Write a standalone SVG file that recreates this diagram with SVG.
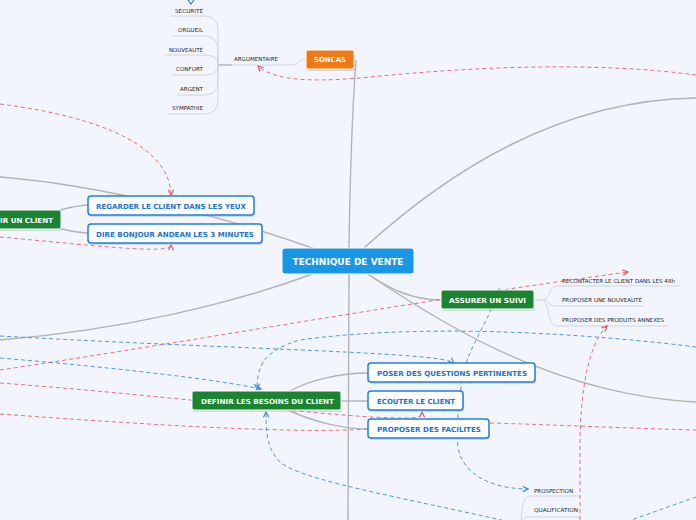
<svg xmlns="http://www.w3.org/2000/svg" width="696" height="520" viewBox="0 0 696 520">
<style>
.br{fill:none;stroke:#b3b3b3;stroke-width:1.4}
.lf{fill:none;stroke:#d2d4da;stroke-width:1}
.rd{fill:none;stroke:#ec5865;stroke-width:1;stroke-dasharray:4 3;opacity:0.85}
.bd{fill:none;stroke:#3b8fe6;stroke-width:1;stroke-dasharray:4 3;opacity:0.9}
.sh{fill:#9aa0aa;opacity:0.35}
.bx{fill:#fff;stroke:#1c80e3;stroke-width:1.5}
.gr{fill:#1a8431;stroke:#fff;stroke-width:1}
.t{font-family:"DejaVu Sans",Verdana,sans-serif;font-weight:bold}
.tb{fill:#1b73d4;font-size:7px}
.tw{fill:#fff;font-size:7px}
.tl{font-family:"DejaVu Sans",Verdana,sans-serif;fill:#262626;font-size:5.5px}
</style>
<defs>
<marker id="ar" viewBox="0 0 8 8" refX="7" refY="4" markerWidth="7" markerHeight="7" markerUnits="userSpaceOnUse" orient="auto"><path d="M1,1 L7,4 L1,7" fill="none" stroke="#ec3545" stroke-width="1.3"/></marker>
<marker id="ab" viewBox="0 0 8 8" refX="7" refY="4" markerWidth="7" markerHeight="7" markerUnits="userSpaceOnUse" orient="auto"><path d="M1,1 L7,4 L1,7" fill="none" stroke="#2a80e0" stroke-width="1.3"/></marker>
<marker id="abs" viewBox="0 0 8 8" refX="1" refY="4" markerWidth="7" markerHeight="7" markerUnits="userSpaceOnUse" orient="auto"><path d="M7,1 L1,4 L7,7" fill="none" stroke="#2a80e0" stroke-width="1.3"/></marker>
</defs>
<rect width="696" height="520" fill="#f2f5fe"/>

<g id="connectors">
<path class="br" d="M349,248 C350,180 353,100 356,60"/>
<path class="br" d="M364,248 C450,170 560,100 696,98"/>
<path class="br" d="M365,272 C450,330 560,395 696,402"/>
<path class="br" d="M367,274 C390,288 410,300 441,300"/>
<path class="br" d="M0,177 C100,185 220,215 318,250"/>
<path class="br" d="M0,340 C120,330 230,305 318,272"/>
<path class="br" d="M349,274 L348,520"/>
<path class="br" d="M52,213 Q70,206 88,205"/>
<path class="br" d="M52,226 Q70,232 88,233"/>
<path class="br" d="M290,391 C310,380 340,373 368,373"/>
<path class="br" d="M341,401 L368,401"/>
<path class="br" d="M290,411 C310,420 340,429 368,429"/>
<path class="br" d="M218,65 H232"/>
<path class="lf" d="M232,65 H290 C299,65 299,59 306,59"/>
<path class="lf" d="M170,16 H204 Q218,16 218,30 V65"/>
<path class="lf" d="M173,36 H204 Q218,36 218,50 V65"/>
<path class="lf" d="M165,55 H205 Q218,55 218,65"/>
<path class="lf" d="M172,75 H205 Q218,75 218,65"/>
<path class="lf" d="M177,95 H204 Q218,95 218,81 V65"/>
<path class="lf" d="M168,114 H204 Q218,114 218,100 V65"/>
<path class="lf" d="M534,300 H543 C549,300 550,286 556,286 H680"/>
<path class="lf" d="M543,300 C548,300 549,306 555,306 H643"/>
<path class="lf" d="M543,300 C548,300 548,326 556,326 H669"/>
<path class="lf" d="M580,496 H530 C524,496 522,505 521,520"/>
<path class="lf" d="M580,517 H528 C524,517 522,520 521,522"/>

<path class="rd" d="M0,104 C110,118 170,150 171,195" marker-end="url(#ar)"/>
<path class="rd" d="M0,237 C90,245 171,255 171,245" marker-end="url(#ar)"/>
<path class="rd" d="M696,75 C600,62 480,66 370,77 C320,82 275,82 258,66" marker-end="url(#ar)"/>
<path class="rd" d="M0,370 C200,340 420,300 628,272" marker-end="url(#ar)"/>
<path class="rd" d="M0,383 C200,398 330,418 405,418 C418,418 422,417 422,412" marker-end="url(#ar)"/>
<path class="rd" d="M0,414 C150,425 300,434 368,429"/>
<path class="rd" d="M490,423 C560,425 620,428 696,430"/>
<path class="rd" d="M580,520 L580,440 C581,390 588,345 607,326" marker-end="url(#ar)"/>

<path class="bd" d="M0,336 C250,350 440,352 454,363" marker-end="url(#ab)"/>
<path class="bd" d="M0,358 C120,368 220,380 261,389" marker-end="url(#ab)"/>
<path class="bd" d="M696,347 C600,335 430,322 300,340 C265,350 257,365 257,389" marker-end="url(#ab)"/>
<path class="bd" d="M510,522 C400,497 300,480 280,462 C266,448 266,430 266,412" marker-end="url(#ab)"/>
<path class="bd" d="M620,524 L696,497"/>
<path class="bd" d="M499,289 C490,320 466,350 462,380 C457,420 455,440 460,455 C470,480 500,489 528,489" marker-start="url(#abs)" marker-end="url(#ab)"/>
<path d="M188,0 L191,4 L194,0" fill="none" stroke="#2a80e0" stroke-width="1.2"/>
</g>

<g id="n-center">
<rect x="282" y="248" width="132" height="26" rx="3" fill="#1a96e6" stroke="#fff" stroke-width="1"/>
<text class="t" x="348" y="264.5" text-anchor="middle" fill="#fff" font-size="9.5" textLength="111" lengthAdjust="spacingAndGlyphs">TECHNIQUE DE VENTE</text>
</g>
<g id="n-soncas">
<rect class="sh" x="307" y="52" width="48" height="19" rx="2"/>
<rect x="306" y="50" width="48" height="19" rx="2" fill="#ee7a11" stroke="#fff" stroke-width="1"/>
<text class="t tw" x="330" y="62.3" text-anchor="middle" textLength="32" lengthAdjust="spacingAndGlyphs">SONCAS</text>
</g>
<g id="n-argumentaire">
<text class="tl" x="234" y="61" textLength="44" lengthAdjust="spacingAndGlyphs">ARGUMENTAIRE</text>
</g>
<g id="n-securite"><text class="tl" x="203" y="13" text-anchor="end" textLength="28" lengthAdjust="spacingAndGlyphs">SÉCURITÉ</text></g>
<g id="n-orgueil"><text class="tl" x="203" y="32" text-anchor="end" textLength="25" lengthAdjust="spacingAndGlyphs">ORGUEIL</text></g>
<g id="n-nouveaute"><text class="tl" x="203" y="52" text-anchor="end" textLength="34" lengthAdjust="spacingAndGlyphs">NOUVEAUTÉ</text></g>
<g id="n-confort"><text class="tl" x="203" y="71" text-anchor="end" textLength="27" lengthAdjust="spacingAndGlyphs">CONFORT</text></g>
<g id="n-argent"><text class="tl" x="203" y="91" text-anchor="end" textLength="23" lengthAdjust="spacingAndGlyphs">ARGENT</text></g>
<g id="n-sympathie"><text class="tl" x="203" y="110" text-anchor="end" textLength="31" lengthAdjust="spacingAndGlyphs">SYMPATHIE</text></g>

<g id="n-accueillir">
<rect class="sh" x="-6" y="212" width="67" height="19" rx="2"/>
<rect class="gr" x="-6" y="210" width="67" height="19" rx="2"/>
<text class="t tw" x="0" y="222.5" textLength="53" lengthAdjust="spacingAndGlyphs">IR UN CLIENT</text>
</g>
<g id="n-regarder">
<rect class="sh" x="89" y="198" width="166" height="19" rx="3"/>
<rect class="bx" x="88" y="196" width="166" height="19" rx="3"/>
<text class="t tb" x="171" y="208.5" text-anchor="middle" textLength="150" lengthAdjust="spacingAndGlyphs">REGARDER LE CLIENT DANS LES YEUX</text>
</g>
<g id="n-bonjour">
<rect class="sh" x="89" y="226" width="174" height="19" rx="3"/>
<rect class="bx" x="88" y="224" width="174" height="19" rx="3"/>
<text class="t tb" x="175" y="236.5" text-anchor="middle" textLength="158" lengthAdjust="spacingAndGlyphs">DIRE BONJOUR ANDEAN LES 3 MINUTES</text>
</g>

<g id="n-suivi">
<rect class="sh" x="442" y="292" width="93" height="19" rx="2"/>
<rect class="gr" x="441" y="290" width="93" height="19" rx="2"/>
<text class="t tw" x="487.5" y="302.5" text-anchor="middle" textLength="77" lengthAdjust="spacingAndGlyphs">ASSURER UN SUIVI</text>
</g>
<g id="n-recontacter"><text class="tl" x="562" y="283" textLength="113" lengthAdjust="spacingAndGlyphs">RECONTACTER LE CLIENT DANS LES 48h</text></g>
<g id="n-nouveaute2"><text class="tl" x="562" y="302" textLength="80" lengthAdjust="spacingAndGlyphs">PROPOSER UNE NOUVEAUTÉ</text></g>
<g id="n-annexes"><text class="tl" x="562" y="322" textLength="102" lengthAdjust="spacingAndGlyphs">PROPOSER DES PRODUITS ANNEXES</text></g>

<g id="n-definir">
<rect class="sh" x="193" y="393" width="149" height="19" rx="2"/>
<rect class="gr" x="192" y="391" width="149" height="19" rx="2"/>
<text class="t tw" x="267.5" y="403.5" text-anchor="middle" textLength="133" lengthAdjust="spacingAndGlyphs">DEFINIR LES BESOINS DU CLIENT</text>
</g>
<g id="n-poser">
<rect class="sh" x="369" y="365" width="167" height="19" rx="3"/>
<rect class="bx" x="368" y="363" width="167" height="19" rx="3"/>
<text class="t tb" x="452" y="375.5" text-anchor="middle" textLength="150" lengthAdjust="spacingAndGlyphs">POSER DES QUESTIONS PERTINENTES</text>
</g>
<g id="n-ecouter">
<rect class="sh" x="369" y="393" width="95" height="19" rx="3"/>
<rect class="bx" x="368" y="391" width="95" height="19" rx="3"/>
<text class="t tb" x="416" y="403.5" text-anchor="middle" textLength="78" lengthAdjust="spacingAndGlyphs">ECOUTER LE CLIENT</text>
</g>
<g id="n-facilites">
<rect class="sh" x="369" y="421" width="121" height="19" rx="3"/>
<rect class="bx" x="368" y="419" width="121" height="19" rx="3"/>
<text class="t tb" x="429" y="431.5" text-anchor="middle" textLength="104" lengthAdjust="spacingAndGlyphs">PROPOSER DES FACILITES</text>
</g>
<g id="n-prospection"><text class="tl" x="534" y="493" textLength="39" lengthAdjust="spacingAndGlyphs">PROSPECTION</text></g>
<g id="n-qualification"><text class="tl" x="534" y="512" textLength="44" lengthAdjust="spacingAndGlyphs">QUALIFICATION</text></g>
</svg>
